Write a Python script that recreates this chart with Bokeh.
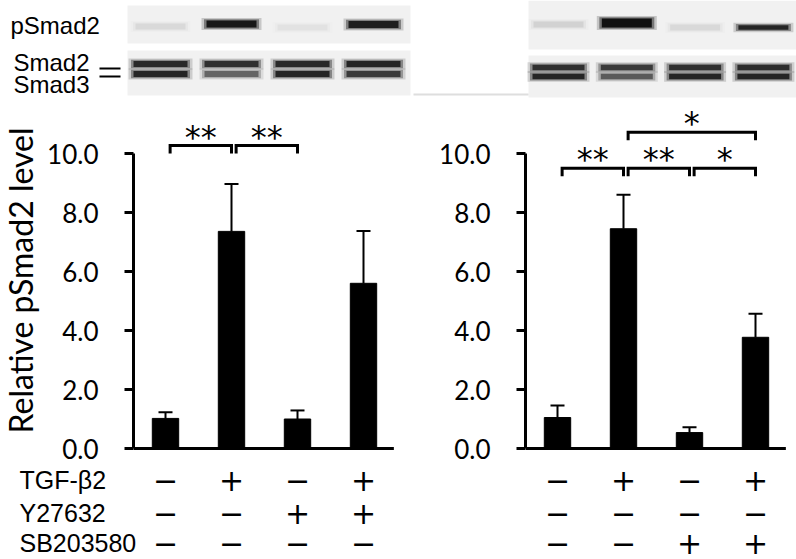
import math
from bokeh.plotting import figure
from bokeh.layouts import column, row
from bokeh.models import (Range1d, FixedTicker, NumeralTickFormatter,
                          ColumnDataSource, Whisker, TeeHead)
from bokeh.core.properties import value
from bokeh.embed import file_html
from bokeh.resources import INLINE

# ---------------- data ----------------
conditions = [1, 2, 3, 4]
left_means = [1.02, 7.36, 1.0, 5.6]
left_sd = [0.21, 1.61, 0.29, 1.77]
right_means = [1.05, 7.45, 0.54, 3.77]
right_sd = [0.41, 1.15, 0.18, 0.8]

row_labels = ["TGF-β2", "Y27632", "SB203580"]
left_signs = [["−", "+", "−", "+"],
              ["−", "−", "+", "+"],
              ["−", "−", "−", "−"]]
right_signs = [["−", "+", "−", "+"],
               ["−", "−", "−", "−"],
               ["−", "−", "+", "+"]]

y_ticks = [0, 2, 4, 6, 8, 10]
y_label = "Relative pSmad2 level"

# significance brackets: (from, to, height, label)
left_brackets = [(1, 2, 10.27, "**"), (2, 3, 10.27, "**")]
right_brackets = [(1, 2, 9.5, "**"), (2, 3, 9.5, "**"), (3, 4, 9.5, "*"),
                  (2, 4, 10.72, "*")]

# western blot band intensities per lane (0 = none, 1 = saturated)
left_psmad2 = [0.07, 0.95, 0.04, 0.9]
left_smad2 = [0.82, 0.78, 0.82, 0.85]
left_smad3 = [0.85, 0.5, 0.85, 0.72]
right_psmad2 = [0.09, 1.0, 0.07, 0.85]
right_smad2 = [0.78, 0.72, 0.78, 0.8]
right_smad3 = [0.85, 0.55, 0.85, 0.85]
blot_labels = ["pSmad2", "Smad2", "Smad3"]

# ---------------- layout (pixels) ----------------
W, H = 796, 559
TOP_H, MID_H = 100, 364
BOT_H = H - TOP_H - MID_H
LABEL_W, L_W = 43, 357
R_W = W - LABEL_W - L_W
AXIS_PANEL_L, AXIS_PANEL_R = 90, 125
PX_PER_UNIT = 29.5
BASE_PX = 348          # from middle-row top to value 0
PX_PER_CAT = 66
CAT1_PX = 32           # from y axis to first bar
BAR_W = 0.4
BRACKET_TICK = 8 / PX_PER_UNIT

L_AXIS = LABEL_W + AXIS_PANEL_L
R_AXIS = LABEL_W + L_W + AXIS_PANEL_R

TXT = "Liberation Sans"
NUM = "Lato"
SYM = "DejaVu Sans"


def base_fig(w, h, xr, yr, **kw):
    p = figure(width=w, height=h, x_range=xr, y_range=yr,
               toolbar_location=None, output_backend="svg",
               min_border=0, outline_line_color=None, **kw)
    p.grid.visible = False
    return p


# ---------------- blots ----------------
top = base_fig(W, TOP_H, Range1d(0, W), Range1d(TOP_H, 0),
               x_axis_location=None, y_axis_location=None)
top.quad(left=[127, 127, 528, 528], right=[410, 410, 800, 800],
         top=[5, 50, 0, 55], bottom=[43, 95, 49, 97],
         fill_color="#f1f1f1", line_color=None)
top.line([413, 528], [94, 94], line_color="#dedede", line_width=2)

L_LANES = [160 + 71 * i for i in range(4)]
R_LANES = [558 + 68.3 * i for i in range(4)]


def bands(xs, ys, w, hs, inten):
    for pad, k in [(5, 0.18), (2.5, 0.4), (0, 0.85)]:
        top.rect(x=xs, y=ys, width=[w + pad * 2] * 4,
                 height=[hh + pad for hh in hs],
                 fill_color="black", fill_alpha=[i * k for i in inten],
                 line_color=None)


bands(L_LANES, [26, 23.5, 27, 24], 50, [6, 7, 6, 7], left_psmad2)
bands(L_LANES, [63.5] * 4, 54, [6] * 4, left_smad2)
bands(L_LANES, [73.5] * 4, 54, [6] * 4, left_smad3)
bands(R_LANES, [24, 22.5, 27, 27], 50, [6, 9, 6, 4.5], right_psmad2)
bands(R_LANES, [67] * 4, 52, [5.5] * 4, right_smad2)
bands(R_LANES, [76] * 4, 52, [5.5] * 4, right_smad3)

top.text(x=[10, 13, 13], y=[25, 62, 84], text=blot_labels,
         text_font=value(TXT), text_font_size="24px", text_color="black",
         text_align="left", text_baseline="middle")
top.segment(x0=[99, 99], y0=[68, 76], x1=[120, 120], y1=[68, 76],
            line_color="black", line_width=2)

# ---------------- y label ----------------
lab = base_fig(LABEL_W, MID_H, Range1d(0, LABEL_W), Range1d(MID_H, 0),
               x_axis_location=None, y_axis_location=None)
lab.text(x=[20], y=[180], text=[y_label], angle=math.pi / 2,
         text_font=value(NUM), text_font_size="32px", text_color="black",
         text_align="center", text_baseline="middle")


# ---------------- charts ----------------
def chart(w, panel, means, sd, brackets):
    fw = w - panel
    x0 = 1 - CAT1_PX / PX_PER_CAT
    xr = Range1d(x0, x0 + fw / PX_PER_CAT)
    yr = Range1d(-(MID_H - BASE_PX) / PX_PER_UNIT, BASE_PX / PX_PER_UNIT)
    p = base_fig(w, MID_H, xr, yr, x_axis_location=None,
                 y_axis_location="left")
    p.min_border_left = panel
    ax = p.yaxis[0]
    ax.ticker = FixedTicker(ticks=y_ticks)
    ax.formatter = NumeralTickFormatter(format="0.0")
    ax.bounds = (y_ticks[0], y_ticks[-1])
    ax.axis_line_width = 3
    ax.axis_line_color = "black"
    ax.major_tick_line_width = 3
    ax.major_tick_line_color = "black"
    ax.major_tick_out = 9
    ax.major_tick_in = 0
    ax.minor_tick_line_color = None
    ax.major_label_standoff = 26
    ax.major_label_text_font = NUM
    ax.major_label_text_font_size = "26px"
    ax.major_label_text_color = "black"

    src = ColumnDataSource(dict(x=conditions, top=means,
                                upper=[m + s for m, s in zip(means, sd)]))
    p.add_layout(Whisker(source=src, base="x", upper="upper", lower="top",
                         dimension="height", line_width=2, line_color="black",
                         upper_head=TeeHead(size=14, line_width=2,
                                            line_color="black"),
                         lower_head=None))
    p.vbar(x="x", top="top", bottom=0, width=BAR_W, source=src,
           fill_color="black", line_color="black")
    p.segment(x0=[xr.start], y0=[0], x1=[conditions[-1] + 0.46], y1=[0],
              line_color="black", line_width=3)

    xs, ys, mx, my, lbl = [], [], [], [], []
    for a, b, h, t in brackets:
        s, e = a + 0.07, b + 0.0
        xs.append([s, s, e, e])
        ys.append([h - BRACKET_TICK, h, h, h - BRACKET_TICK])
        mx.append((s + e) / 2)
        my.append(h)
        lbl.append(t)
    p.multi_line(xs, ys, line_color="black", line_width=3,
                 line_join="miter")
    p.text(x=mx, y=my, text=lbl, text_align="center",
           text_baseline="alphabetic", y_offset=-9,
           text_font=value(SYM), text_font_size="32px", text_color="black")
    return p


left = chart(L_W, AXIS_PANEL_L, left_means, left_sd, left_brackets)
right = chart(R_W, AXIS_PANEL_R, right_means, right_sd, right_brackets)

# ---------------- treatment table ----------------
bot_y0 = TOP_H + MID_H
bot = base_fig(W, BOT_H, Range1d(0, W), Range1d(bot_y0 + BOT_H, bot_y0),
               x_axis_location=None, y_axis_location=None)
for name, c1 in [("lx", L_AXIS + CAT1_PX), ("rx", R_AXIS + CAT1_PX)]:
    st = 1 - c1 / PX_PER_CAT
    bot.extra_x_ranges[name] = Range1d(st, st + W / PX_PER_CAT)

ROW_Y = [479, 512, 542]
bot.text(x=[19] * 3, y=ROW_Y, text=row_labels, text_font=value(TXT),
         text_font_size="25px", text_color="black", text_align="left",
         text_baseline="middle")
for rng, signs in [("lx", left_signs), ("rx", right_signs)]:
    for ry, sg in zip(ROW_Y, signs):
        bot.text(x=conditions, y=[ry] * 4, text=sg, x_range_name=rng,
                 text_font=value(SYM), text_font_size="30px",
                 text_color="black", text_align="center",
                 text_baseline="middle")

layout = column(top, row(lab, left, right), bot)
open("out.html", "w").write(file_html(layout, INLINE))
